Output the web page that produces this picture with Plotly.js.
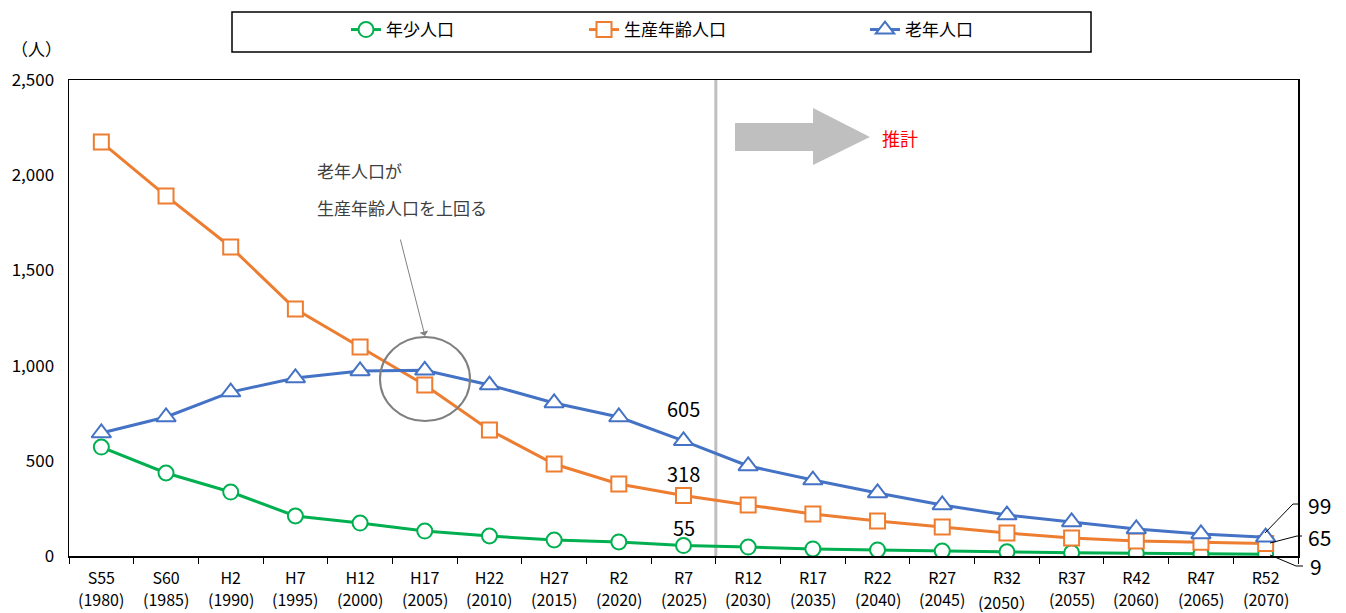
<!DOCTYPE html>
<html><head><meta charset="utf-8">
<script src="https://cdn.plot.ly/plotly-3.0.1.min.js"></script>
<style>html,body{margin:0;padding:0;background:#fff}#chart{width:1346px;height:613px}</style>
</head><body><div id="chart"></div>
<script>
const eraLabels = ['S55','S60','H2','H7','H12','H17','H22','H27','R2','R7','R12','R17','R22','R27','R32','R37','R42','R47','R52'];
const yearLabels = ['(1980)','(1985)','(1990)','(1995)','(2000)','(2005)','(2010)','(2015)','(2020)','(2025)','(2030)','(2035)','(2040)','(2045)','(2050）','(2055)','(2060)','(2065)','(2070)'];
const youth = [572,436,336,210,173,131,105,84,74,55,47,37,32,26,22,17,14,11,9];
const working = [2174,1891,1623,1297,1098,898,662,483,378,318,268,221,184,152,121,95,79,72,65];
const elderly = [646,730,861,935,972,975,898,804,730,605,473,399,331,268,215,179,142,116,99];
const seriesNames = ['年少人口','生産年齢人口','老年人口'];

const font = '"Noto Sans CJK JP", "Noto Sans", sans-serif';

const mk = (name, y, color, symbol, size, legend) => ({
  type:'scatter', mode:'lines+markers', name, x:eraLabels, y, legend,
  line:{color, width:3},
  marker:{symbol, size, color:'#ffffff', line:{color, width:2}}
});
const data = [
  mk(seriesNames[0], youth, '#00b050', 'circle', 15, 'legend'),
  mk(seriesNames[1], working, '#ed7d31', 'square', 15, 'legend2'),
  mk(seriesNames[2], elderly, '#4472c4', 'triangle-up', 17, 'legend3')
];

const W=1229, H=476, L=69, B=556;
const px = x => (x-L)/W, py = y => (B-y)/H;
const P = pts => 'M ' + pts.map(p=>px(p[0]).toFixed(4)+','+py(p[1]).toFixed(4)).join(' L ');

const legBase = {orientation:'h', yanchor:'middle', y:py(30), xanchor:'left', font:{family:font,size:17,color:'#000'}, bgcolor:'rgba(0,0,0,0)', borderwidth:0};

const txt = (x, y, text, size, color, xanchor) => ({xref:'paper', yref:'paper', x:px(x), y:py(y), text, showarrow:false,
  xanchor:xanchor||'center', yanchor:'middle', font:{size, color}});

const annotations = [
  txt(36, 48, '（人）', 17, '#000'),
  txt(315, 170, '老年人口が', 17, '#404040', 'left'),
  txt(315, 207, '生産年齢人口を上回る', 17, '#404040', 'left'),
  {xref:'paper', yref:'paper', x:px(425), y:py(336), ax:-25, ay:-98, text:'', showarrow:true, arrowhead:1, arrowsize:1.5, arrowwidth:1, arrowcolor:'#808080'},
  txt(900, 138, '推計', 18, '#ff0000'),
  {xref:'x', yref:'y', x:9, y:(556-408)/0.1904, yanchor:'middle', text:String(elderly[9]), showarrow:false, font:{size:20,color:'#000'}},
  {xref:'x', yref:'y', x:9, y:(556-473)/0.1904, yanchor:'middle', text:String(working[9]), showarrow:false, font:{size:20,color:'#000'}},
  {xref:'x', yref:'y', x:9, y:(556-527)/0.1904, yanchor:'middle', text:String(youth[9]), showarrow:false, font:{size:20,color:'#000'}},
  txt(1306, 505, String(elderly[18]), 21, '#000', 'left'),
  txt(1306, 537, String(working[18]), 21, '#000', 'left'),
  txt(1308, 566, String(youth[18]), 21, '#000', 'left')
];
yearLabels.forEach((t,i)=>{
  annotations.push({xref:'x', yref:'paper', x:i, y:py(t.indexOf('）')>=0 ? 602 : 599), yanchor:'middle', xanchor:'center',
    text:t, showarrow:false, font:{size:16,color:'#000'}});
});

const layout = {
  width:1346, height:613,
  margin:{l:L, r:1346-1298, t:80, b:613-556},
  paper_bgcolor:'#fff', plot_bgcolor:'#fff',
  font:{family:font, size:16, color:'#000'},
  showlegend:true,
  legend:Object.assign({}, legBase, {x:px(346)}),
  legend2:Object.assign({}, legBase, {x:px(584)}),
  legend3:Object.assign({}, legBase, {x:px(865)}),
  xaxis:{type:'category', range:[-0.5,18.5], autorange:false, showline:true, linecolor:'#000', linewidth:1.5, mirror:true,
    ticks:'outside', tickson:'boundaries', ticklen:6, tickcolor:'#000', tickangle:0, ticklabelstandoff:7,
    showgrid:false, zeroline:false, tickfont:{family:font,size:16,color:'#000'}},
  yaxis:{range:[0,2500], autorange:false, dtick:500, tickformat:',', showline:true, linecolor:'#000', linewidth:1.5, mirror:true,
    ticks:'', showgrid:false, zeroline:false, ticklabelstandoff:10, tickfont:{family:font,size:17,color:'#000'}},
  shapes:[
    {type:'line', xref:'x', yref:'paper', x0:9.5, x1:9.5, y0:0, y1:1, line:{color:'#bfbfbf', width:3}, layer:'below'},
    {type:'circle', xref:'paper', yref:'paper', x0:px(380), x1:px(470), y0:py(421), y1:py(337), line:{color:'#7f7f7f', width:2}},
    {type:'path', xref:'paper', yref:'paper', path:P([[735,123],[813,123],[813,108],[870,137],[813,165],[813,151],[735,151]])+' Z', fillcolor:'#bfbfbf', line:{width:0}},
    {type:'rect', xref:'paper', yref:'paper', x0:px(232), x1:px(1091), y0:py(52), y1:py(12), line:{color:'#000', width:1.5}},
    {type:'path', xref:'paper', yref:'paper', path:P([[1265,533],[1293,504],[1300,504]]), line:{color:'#000', width:1}},
    {type:'path', xref:'paper', yref:'paper', path:P([[1270,543],[1297,536],[1302,536]]), line:{color:'#000', width:1}},
    {type:'path', xref:'paper', yref:'paper', path:P([[1270,555],[1296,566],[1303,566]]), line:{color:'#000', width:1}}
  ],
  annotations
};
Plotly.newPlot('chart', data, layout, {displayModeBar:false, staticPlot:true});
</script></body></html>
